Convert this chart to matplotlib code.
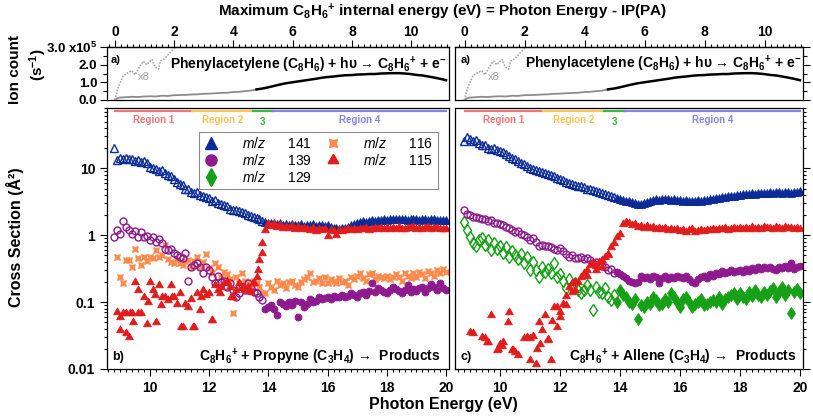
import numpy as np
import matplotlib
matplotlib.use('Agg')
import matplotlib.pyplot as plt
from matplotlib.lines import Line2D
from matplotlib.ticker import MultipleLocator, LogLocator, FixedLocator, FixedFormatter, NullFormatter

## Ionisation potential of phenylacetylene (eV)
IP = 8.82

## Photon energy grid (eV), same for both panels
energy = [8.8, 8.9,
          9.0, 9.1, 9.2, 9.3, 9.4, 9.5, 9.6, 9.7, 9.8, 9.9,
          10.0, 10.1, 10.2, 10.3, 10.4, 10.5, 10.6, 10.7, 10.8, 10.9,
          11.0, 11.1, 11.2, 11.3, 11.4, 11.5, 11.6, 11.7, 11.8, 11.9,
          12.0, 12.1, 12.2, 12.3, 12.4, 12.5, 12.6, 12.7, 12.8, 12.9,
          13.0, 13.1, 13.2, 13.3, 13.4, 13.5, 13.6, 13.7, 13.8, 13.9,
          14.0, 14.1, 14.2, 14.3, 14.4, 14.5, 14.6, 14.7, 14.8, 14.9,
          15.0, 15.1, 15.2, 15.3, 15.4, 15.5, 15.6, 15.7, 15.8, 15.9,
          16.0, 16.1, 16.2, 16.3, 16.4, 16.5, 16.6, 16.7, 16.8, 16.9,
          17.0, 17.1, 17.2, 17.3, 17.4, 17.5, 17.6, 17.7, 17.8, 17.9,
          18.0, 18.1, 18.2, 18.3, 18.4, 18.5, 18.6, 18.7, 18.8, 18.9,
          19.0, 19.1, 19.2, 19.3, 19.4, 19.5, 19.6, 19.7, 19.8, 19.9,
          20.0]
nan = np.nan

## b) Propyne, cross sections (A^2)
propyne_141 = [20.5, 13.5,
               14.2, 13.6, 14.5, 13.8, 14.0, 13.1, 13.4, 12.6, 12.9, 12.0,
               10.6, 10.2, 9.9, 9.1, 9.3, 8.4, 7.9, 7.6, 6.9, 6.3,
               5.8, 5.6, 5.0, 4.9, 4.5, 4.3, 4.4, 4.0, 3.8, 3.7,
               3.6, 3.3, 3.4, 3.0, 2.9, 2.8, 2.7, 2.5, 2.4, 2.35,
               2.3, 2.2, 2.15, 2.0, 1.95, 1.9, 1.8, 1.75, 1.65, 1.6,
               1.55, 1.5, 1.55, 1.45, 1.5, 1.42, 1.48, 1.4, 1.45, 1.42,
               1.4, 1.45, 1.38, 1.42, 1.4, 1.45, 1.38, 1.42, 1.4, 1.36,
               1.4, 1.35, 1.3, 1.28, 1.25, 1.27, 1.3, 1.35, 1.42, 1.48,
               1.55, 1.58, 1.62, 1.6, 1.65, 1.7, 1.66, 1.72, 1.7, 1.75,
               1.72, 1.76, 1.74, 1.78, 1.73, 1.77, 1.75, 1.72, 1.76, 1.74,
               1.75, 1.72, 1.76, 1.74, 1.7, 1.73, 1.75, 1.71, 1.72, 1.7,
               1.68]
propyne_139 = [0.94, 1.19,
               1.06, 1.66, 1.33, 1.19, 1.06, 1.15, 0.94, 1.12, 0.94, 0.96,
               0.84, 0.94, 0.8, 0.89, 0.76, 0.63, 0.6, 0.62, 0.54, 0.5,
               0.48, 0.45, 0.54, 0.21, 0.33, 0.36, 0.38, 0.34, 0.27, 0.33,
               0.30, 0.24, 0.19, 0.25, 0.2, 0.21, 0.17, 0.19, 0.15, 0.12,
               0.135, 0.17, 0.15, 0.19, 0.16, 0.14, 0.135, 0.12, 0.107, 0.08,
               0.085, 0.09, 0.078, 0.064, 0.1, 0.095, 0.088, 0.1, 0.092, 0.105,
               0.06, 0.1, 0.085, 0.095, 0.11, 0.1, 0.105, 0.12, 0.11, 0.115,
               0.12, 0.11, 0.125, 0.118, 0.12, 0.13, 0.12, 0.125, 0.135, 0.13,
               0.12, 0.135, 0.14, 0.13, 0.145, 0.19, 0.14, 0.165, 0.15, 0.14,
               0.135, 0.15, 0.17, 0.155, 0.145, 0.135, 0.15, 0.18, 0.14, 0.155,
               0.145, 0.16, 0.17, 0.14, 0.165, 0.185, 0.17, 0.15, 0.19, 0.165,
               0.15]
propyne_116 = [nan, 0.48,
               0.24, 0.19, 0.43, 0.42, 0.34, 0.63, 0.45, 0.36, 0.48, 0.41,
               0.47, 0.45, 0.6, 0.47, 0.5, 0.71, 0.44, 0.4, 0.38, 0.44,
               0.38, 0.36, 0.41, 0.43, 0.34, 0.41, 0.48, 0.33, 0.4, 0.52,
               0.32, 0.27, 0.38, 0.34, 0.24, 0.28, 0.26, 0.22, 0.068, 0.24,
               0.19, 0.27, 0.21, 0.2, 0.17, 0.21, 0.19, 0.17, 0.135, 0.135,
               0.19, 0.17, 0.15, 0.21, 0.18, 0.19, 0.16, 0.2, 0.21, 0.18,
               0.17, 0.2, 0.22, 0.24, 0.27, 0.2, 0.21, 0.23, 0.19, 0.24,
               0.19, 0.22, 0.21, 0.19, 0.23, 0.2, 0.21, 0.18, 0.24, 0.22,
               0.25, 0.27, 0.23, 0.21, 0.26, 0.27, 0.22, 0.25, 0.24, 0.23,
               0.25, 0.22, 0.24, 0.26, 0.24, 0.21, 0.27, 0.25, 0.23, 0.27,
               0.24, 0.28, 0.26, 0.23, 0.29, 0.27, 0.25, 0.3, 0.27, 0.31,
               0.28]
propyne_115 = [nan, 0.072,
               0.038, 0.068, 0.034, 0.03, 0.068, 0.2, 0.15, 0.068, 0.12, 0.047,
               0.2, 0.15, 0.051, 0.18, 0.12, 0.12, 0.107, 0.18, 0.12, 0.095,
               0.135, 0.042, 0.095, 0.085, 0.11, 0.042, 0.135, 0.076, 0.15, 0.13,
               0.135, 0.054, 0.18, 0.15, 0.17, 0.19, 0.21, 0.17, 0.12, 0.15,
               0.19, 0.16, 0.15, 0.17, 0.14, 0.19, 0.24, 0.43, 0.76, 1.19,
               1.49, 1.38, 1.45, 1.32, 1.4, 1.28, 1.35, 1.3, 1.38, 1.25,
               1.32, 1.22, 1.3, 1.26, 1.2, 1.28, 1.15, 1.22, 1.18, 1.25,
               0.98, 1.2, 1.16, 1.0, 1.18, 1.14, 1.2, 1.24, 1.18, 1.22,
               1.2, 1.26, 1.22, 1.28, 1.2, 1.25, 1.3, 1.22, 1.27, 1.24,
               1.28, 1.22, 1.3, 1.25, 1.32, 1.26, 1.24, 1.3, 1.27, 1.33,
               1.26, 1.3, 1.24, 1.28, 1.32, 1.25, 1.29, 1.27, 1.23, 1.26,
               1.22]
# second set of scattered m/z 115 points below 14 eV
propyne_115_x2 = [9.0, 9.2, 9.32, 9.43, 9.6, 9.94, 10.16, 10.39, 10.73, 11.06,
                  11.46, 11.74, 12.08, 12.36, 12.75, 13.15, 13.48, 13.65, 13.77]
propyne_115_y2 = [0.06, 0.068, 0.068, 0.05, 0.068, 0.1, 0.13, 0.09, 0.12, 0.042,
                  0.042, 0.12, 0.054, 0.135, 0.12, 0.17, 0.19, 0.3, 0.54]

## c) Allene, cross sections (A^2)
allene_141 = [25.5, 29.0,
              27.5, 26.0, 26.5, 24.0, 22.5, 22.0, 20.5, 19.8, 20.2, 19.0,
              18.5, 17.5, 16.6, 15.5, 14.2, 13.6, 12.8, 12.2, 11.5, 10.8,
              10.3, 9.8, 9.5, 9.0, 8.8, 8.6, 8.2, 8.0, 7.8, 7.2,
              6.9, 6.6, 6.3, 6.1, 5.9, 5.7, 5.5, 5.4, 5.2, 5.0,
              4.9, 4.7, 4.55, 4.4, 4.25, 4.1, 3.95, 3.8, 3.7, 3.55,
              3.45, 3.35, 3.25, 3.2, 3.1, 3.05, 2.95, 2.9, 3.05, 3.15,
              3.25, 3.35, 3.45, 3.4, 3.5, 3.45, 3.5, 3.4, 3.45, 3.35,
              3.4, 3.3, 3.35, 3.3, 3.25, 3.3, 3.35, 3.3, 3.4, 3.35,
              3.45, 3.5, 3.55, 3.6, 3.7, 3.75, 3.8, 3.85, 3.9, 4.0,
              4.05, 4.1, 4.2, 4.15, 4.25, 4.2, 4.3, 4.25, 4.35, 4.3,
              4.4, 4.35, 4.45, 4.4, 4.35, 4.45, 4.4, 4.35, 4.45, 4.4,
              4.6]
allene_139 = [2.36, 2.1,
              2.0, 1.9, 1.85, 1.8, 1.78, 1.75, 1.65, 1.72, 1.5, 1.55,
              1.45, 1.4, 1.33, 1.3, 1.2, 1.12, 1.15, 1.05, 1.0, 0.95,
              0.84, 0.9, 0.78, 0.7, 0.72, 0.68, 0.7, 0.66, 0.62, 0.6,
              0.64, 0.58, 0.52, 0.48, 0.5, 0.46, 0.45, 0.47, 0.44, 0.45,
              0.42, 0.38, 0.4, 0.36, 0.35, 0.33, 0.3, 0.31, 0.27, 0.28,
              0.26, 0.25, 0.23, 0.21, 0.2, 0.19, 0.2, 0.25, 0.23, 0.24,
              0.22, 0.25, 0.24, 0.19, 0.23, 0.25, 0.22, 0.24, 0.23, 0.25,
              0.24, 0.23, 0.25, 0.22, 0.2, 0.19, 0.22, 0.24, 0.25, 0.23,
              0.26, 0.25, 0.27, 0.26, 0.29, 0.27, 0.28, 0.3, 0.28, 0.29,
              0.3, 0.28, 0.31, 0.29, 0.32, 0.3, 0.33, 0.31, 0.34, 0.32,
              0.33, 0.31, 0.3, 0.33, 0.32, 0.35, 0.32, 0.38, 0.31, 0.34,
              0.35]
allene_129 = [1.58, 1.19,
              0.94, 0.76, 0.69, 0.84, 0.9, 0.71, 0.84, 0.6, 0.76, 0.62,
              0.69, 0.55, 0.66, 0.48, 0.58, 0.5, 0.44, 0.52, 0.38, 0.48,
              0.3, 0.4, 0.3, 0.24, 0.34, 0.28, 0.31, 0.27, 0.38, 0.24,
              0.26, 0.21, 0.16, 0.22, 0.17, 0.19, 0.15, 0.135, 0.15, 0.18,
              0.15, 0.076, 0.17, 0.14, 0.135, 0.16, 0.12, 0.107, 0.13, 0.1,
              0.15, 0.13, 0.12, 0.1, 0.095, 0.11, 0.055, 0.09, 0.085, 0.1,
              0.095, 0.12, 0.107, 0.09, 0.095, 0.11, 0.1, 0.135, 0.12, 0.1,
              0.085, 0.11, 0.12, 0.1, 0.085, 0.095, 0.1, 0.11, 0.09, 0.095,
              0.1, 0.107, 0.1, 0.12, 0.095, 0.11, 0.12, 0.13, 0.135, 0.11,
              0.135, 0.12, 0.11, 0.14, 0.125, 0.15, 0.13, 0.12, 0.14, 0.13,
              0.145, 0.16, 0.12, 0.14, 0.17, 0.13, 0.15, 0.069, 0.14, 0.155,
              0.135]
allene_115 = [nan, nan,
              0.036, 0.035, nan, nan, 0.03, 0.029, 0.025, 0.065, nan, 0.019,
              0.024, 0.025, nan, 0.072, 0.019, 0.018, 0.016, nan, 0.029, 0.03,
              0.0136, 0.031, 0.012, 0.05, 0.038, 0.065, 0.028, 0.0136, 0.085, 0.042,
              0.072, 0.095, 0.125, 0.17, 0.19, 0.15, 0.2, 0.24, 0.27, 0.3,
              0.36, 0.38, 0.3, 0.4, 0.43, 0.48, 0.52, 0.67, 0.76, 0.95,
              1.06, 1.49, 1.58, 1.52, 1.41, 1.45, 1.35, 1.38, 1.3, 1.36,
              1.28, 1.32, 1.25, 1.3, 1.22, 1.27, 1.2, 1.25, 1.18, 1.23,
              1.15, 1.2, 1.12, 1.18, 1.22, 1.1, 1.16, 1.2, 1.14, 1.19,
              1.2, 1.24, 1.18, 1.26, 1.22, 1.28, 1.21, 1.25, 1.3, 1.23,
              1.27, 1.22, 1.3, 1.25, 1.33, 1.26, 1.29, 1.24, 1.31, 1.27,
              1.3, 1.25, 1.34, 1.28, 1.24, 1.32, 1.27, 1.3, 1.25, 1.29,
              1.26]
allene_115_x2 = [9.56, 9.94, 10.06, 10.28, 10.44, 11.0, 11.22, 11.33, 11.61, 11.72,
                 11.89, 12.0, 12.2, 12.4, 12.5, 12.9, 13.2, 13.4, 13.6]
allene_115_y2 = [0.025, 0.02, 0.022, 0.05, 0.019, 0.029, 0.02, 0.024, 0.027, 0.053,
                 0.085, 0.06, 0.09, 0.14, 0.2, 0.25, 0.35, 0.33, 0.5]

## a) Ion count of C8H6+ (x1e5 s^-1) vs photon energy
ion_energy = [8.82, 8.9, 9.0, 9.2, 9.4, 9.6, 9.8, 10.0, 10.2, 10.4, 10.6, 10.8,
              11.0, 11.2, 11.4, 11.6, 11.8, 12.0, 12.2, 12.4, 12.6, 12.8, 13.0,
              13.2, 13.4, 13.6, 13.8, 14.0, 14.2, 14.4, 14.6, 14.8, 15.0, 15.2,
              15.4, 15.6, 15.8, 16.0, 16.2, 16.4, 16.6, 16.8, 17.0, 17.2, 17.4,
              17.6, 17.8, 18.0, 18.2, 18.4, 18.6, 18.8, 19.0, 19.2, 19.4, 19.6,
              19.8, 20.0]
ion_count = [0.0, 0.1, 0.14, 0.16, 0.18, 0.17, 0.2, 0.21, 0.2, 0.24, 0.23, 0.27,
             0.28, 0.29, 0.31, 0.32, 0.35, 0.36, 0.38, 0.4, 0.41, 0.45, 0.46,
             0.5, 0.53, 0.6, 0.65, 0.72, 0.8, 0.88, 0.95, 1.0, 1.05, 1.1,
             1.15, 1.2, 1.26, 1.3, 1.33, 1.37, 1.4, 1.41, 1.44, 1.45, 1.47,
             1.47, 1.5, 1.51, 1.52, 1.52, 1.5, 1.47, 1.42, 1.39, 1.33, 1.27,
             1.2, 1.12]
# low energy part multiplied by 8 (internal energy, eV)
x8_internal = [0.0, 0.1, 0.28, 0.45, 0.57, 0.68, 0.85, 0.96, 1.07, 1.25, 1.36,
               1.47, 1.53, 1.64, 1.76, 1.87, 1.98, 2.05]
x8_count = [0.0, 0.7, 1.38, 1.55, 1.66, 1.43, 1.94, 2.2, 2.0, 2.3, 1.85, 1.75,
            2.2, 2.3, 2.5, 2.7, 2.9, 3.0]

## Energy regions
region_names = ['Region 1', 'Region 2', '3', 'Region 4']
region_start = [8.82, 11.42, 13.48, 14.15]
region_end = [11.42, 13.48, 14.15, 20.0]
region_colors = ['#f07575', '#f9c452', '#3cb83c', '#8585e0']

# colours of the fragments
c141 = '#0b2c98'
c139 = '#8e1a8e'
c129 = '#16a016'
c116 = '#ff8a4c'
c115 = '#e01c1c'

plt.rcParams['font.family'] = ['Liberation Sans', 'DejaVu Sans']
plt.rcParams['font.weight'] = 'bold'
plt.rcParams['mathtext.fontset'] = 'custom'
plt.rcParams['mathtext.rm'] = 'Liberation Sans:normal'
plt.rcParams['mathtext.it'] = 'Liberation Sans:italic:normal'
plt.rcParams['mathtext.bf'] = 'Liberation Sans:bold'
plt.rcParams['axes.linewidth'] = 0.9

C8H6p = r'C$_\mathbf{8}$H$_\mathbf{6}$$^\mathbf{+}$'

fig = plt.figure(figsize=(8.13, 4.2), dpi=100)
W, H = 813.0, 420.0
axTL = fig.add_axes([107/W, 1-100/H, 342/W, 53/H])
axTR = fig.add_axes([455/W, 1-100/H, 348/W, 53/H])
axL = fig.add_axes([107/W, 1-369/H, 342/W, 261/H])
axR = fig.add_axes([455/W, 1-369/H, 348/W, 261/H])

E = np.array(energy)


def draw(ax, y, color, marker, ms, split=True):
    y = np.array(y, dtype=float)
    if split:
        op = E < 13.85
        ax.plot(E[op], y[op], ls='none', marker=marker, ms=ms, mfc='none',
                mec=color, mew=1.0)
        ax.plot(E[~op], y[~op], ls='none', marker=marker, ms=ms, color=color, mew=0.6)
    else:
        ax.plot(E, y, ls='none', marker=marker, ms=ms, color=color, mew=0.6)


# ---- top panels: ion count
for ax, xlim in [(axTL, (8.55, 20.1)), (axTR, (8.5, 20.1))]:
    ie = np.array(ion_energy)
    ic = np.array(ion_count)
    low = ie <= 13.6
    ax.plot(ie[low], ic[low], color='#8c8c8c', lw=1.3)
    ax.plot(ie[ie >= 13.6], ic[ie >= 13.6], color='black', lw=1.8)
    ax.plot(np.array(x8_internal) + IP, x8_count, color='#a8a8a8', lw=1.2, ls=(0, (1, 0.8)))
    ax.text(9.6, 1.3, 'x8', color='#a0a0a0', fontsize=8, fontweight='normal', va='center')
    ax.set_xlim(*xlim)
    ax.set_ylim(0, 3.0)
    ax.tick_params(axis='x', bottom=False, labelbottom=False)
    ax.yaxis.set_major_locator(FixedLocator([0, 1, 2, 3]))
    ax.yaxis.set_minor_locator(FixedLocator([0.5, 1.5, 2.5]))
    ax.tick_params(axis='y', which='major', length=5, width=0.8, direction='out')
    ax.tick_params(axis='y', which='minor', length=3, width=0.8, direction='out')
    sec = ax.secondary_xaxis('top', functions=(lambda x: x - IP, lambda x: x + IP))
    sec.xaxis.set_major_locator(FixedLocator([0, 2, 4, 6, 8, 10]))
    sec.xaxis.set_minor_locator(MultipleLocator(0.2))
    sec.tick_params(which='major', length=5, width=0.8, labelsize=10, pad=1)
    sec.tick_params(which='minor', length=2.5, width=0.8)
    for lab in sec.get_xticklabels():
        lab.set_fontweight('bold')

axTL.yaxis.set_major_formatter(FixedFormatter(['0.0', '1.0', '2.0', r'3.0 x10$^\mathbf{5}$']))
axTL.tick_params(axis='y', labelsize=9.5, pad=2)
axTR.yaxis.tick_right()
axTR.tick_params(axis='y', labelright=False)

react = 'Phenylacetylene (C$_\\mathbf{8}$H$_\\mathbf{6}$) + h\u03c5 \u2192 ' + C8H6p + ' + e$^\\mathbf{-}$'
axTL.text(0.01, 0.76, 'a)', transform=axTL.transAxes, fontsize=8, va='center')
axTL.text(0.183, 0.66, react, transform=axTL.transAxes, fontsize=10, va='center')
axTR.text(0.015, 0.76, 'a)', transform=axTR.transAxes, fontsize=8, va='center')
axTR.text(0.2, 0.68, react, transform=axTR.transAxes, fontsize=10, va='center')

# ---- bottom panels: cross sections
draw(axL, propyne_116, c116, (4, 1, 45), 6, split=False)
draw(axL, propyne_139, c139, 'o', 5)
draw(axL, propyne_141, c141, '^', 5.5)
draw(axL, propyne_115, c115, (3, 1, 0), 6.5, split=False)
axL.plot(propyne_115_x2, propyne_115_y2, ls='none', marker=(3, 1, 0), ms=6.5, color=c115, mew=0.6)

draw(axR, allene_129, c129, 'd', 6)
draw(axR, allene_139, c139, 'o', 5)
draw(axR, allene_141, c141, '^', 5.5)
draw(axR, allene_115, c115, (3, 1, 0), 6.5, split=False)
axR.plot(allene_115_x2, allene_115_y2, ls='none', marker=(3, 1, 0), ms=6.5, color=c115, mew=0.6)

for ax, xlim in [(axL, (8.55, 20.1)), (axR, (8.5, 20.1))]:
    ax.set_yscale('log')
    ax.set_ylim(0.01, 80)
    ax.set_xlim(*xlim)
    ax.xaxis.set_major_locator(MultipleLocator(2))
    ax.xaxis.set_minor_locator(MultipleLocator(0.2))
    ax.yaxis.set_major_locator(FixedLocator([0.01, 0.1, 1, 10]))
    ax.yaxis.set_major_formatter(FixedFormatter(['0.01', '0.1', '1', '10']))
    ax.yaxis.set_minor_locator(LogLocator(base=10, subs=np.arange(2, 10), numticks=20))
    ax.yaxis.set_minor_formatter(NullFormatter())
    ax.tick_params(which='major', length=5, width=0.8, labelsize=10, direction='out')
    ax.tick_params(which='minor', length=2.5, width=0.8, direction='out')
    for lab in ax.get_xticklabels() + ax.get_yticklabels():
        lab.set_fontweight('bold')
    # region bars
    tr = ax.get_xaxis_transform()
    for name, s, e, col in zip(region_names, region_start, region_end, region_colors):
        ax.plot([s, e], [0.988, 0.988], color=col, lw=1.6, transform=tr, clip_on=False)
        ty = 0.947 if name == '3' else 0.955
        ax.text((s + e) / 2, ty, name, color=col, fontsize=7, ha='center', va='center', transform=tr)

axR.yaxis.tick_right()
axR.tick_params(axis='y', labelright=False)

axL.text(0.015, 0.045, 'b)', transform=axL.transAxes, fontsize=9, va='center')
axL.text(0.975, 0.045, C8H6p + ' + Propyne (C$_\\mathbf{3}$H$_\\mathbf{4}$) \u2192  Products',
         transform=axL.transAxes, fontsize=10, va='center', ha='right')
axR.text(0.015, 0.045, 'c)', transform=axR.transAxes, fontsize=9, va='center')
axR.text(0.983, 0.045, C8H6p + ' + Allene (C$_\\mathbf{3}$H$_\\mathbf{4}$) \u2192  Products',
         transform=axR.transAxes, fontsize=10, va='center', ha='right')

# legend
handles = [Line2D([], [], ls='none', marker='^', ms=9, color=c141),
           Line2D([], [], ls='none', marker='o', ms=8, color=c139),
           Line2D([], [], ls='none', marker='d', ms=9, color=c129),
           Line2D([], [], ls='none', marker=(4, 1, 45), ms=8, color=c116),
           Line2D([], [], ls='none', marker=(3, 1, 0), ms=9, color=c115)]
labels = [r'$\mathit{m/z}$      141', r'$\mathit{m/z}$      139', r'$\mathit{m/z}$      129',
          r'$\mathit{m/z}$      116', r'$\mathit{m/z}$      115']
leg = axL.legend(handles, labels, ncol=2, loc='upper left', bbox_to_anchor=(0.269, 0.908),
                 borderaxespad=0, fancybox=False, framealpha=1, edgecolor='#8a8a8a',
                 prop={'weight': 'normal', 'size': 10}, handlelength=1.2, handletextpad=1.6,
                 columnspacing=0.9, labelspacing=0.12, borderpad=0.3)
leg.get_frame().set_linewidth(0.8)

# axis titles
fig.text(443/W, 1-12/H, 'Maximum ' + C8H6p + ' internal energy (eV) = Photon Energy - IP(PA)',
         ha='center', va='center', fontsize=11)
fig.text(443/W, 1-405/H, 'Photon Energy (eV)', ha='center', va='center', fontsize=11.5)
fig.text(15/W, 1-70/H, 'Ion count', rotation=90, ha='center', va='center', fontsize=11)
fig.text(38/W, 1-65/H, r'(s$^\mathbf{-1}$)', rotation=90, ha='center', va='center', fontsize=11)
fig.text(15/W, 1-237/H, 'Cross Section (\u00c5\u00b2)', rotation=90, ha='center', va='center', fontsize=11.5)

plt.savefig('out.png', dpi=100)
